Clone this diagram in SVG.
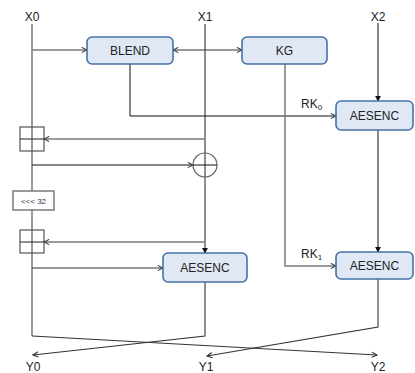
<svg xmlns="http://www.w3.org/2000/svg" width="415" height="373" viewBox="0 0 415 373">
<defs>
<style>
.box{fill:#dfe8f4;stroke:#4472a8;stroke-width:1.6}
.sq{fill:none;stroke:#555;stroke-width:1.2}
.g{fill:none;stroke:#7a7a7a;stroke-width:1.5}
.d{fill:none;stroke:#333;stroke-width:1.1}
.k{fill:none;stroke:#111;stroke-width:1}
.t{font-family:"Liberation Sans",Arial,sans-serif;font-size:12px;fill:#222;text-anchor:middle}
.l{font-family:"Liberation Sans",Arial,sans-serif;font-size:12px;fill:#222}
.s{font-family:"Liberation Sans",Arial,sans-serif;font-size:8px;fill:#334;text-anchor:middle}
</style>
<marker id="open" viewBox="0 0 8 8" refX="7" refY="4" markerWidth="7" markerHeight="7" markerUnits="userSpaceOnUse" orient="auto-start-reverse">
<path d="M1,1 L7,4 L1,7" fill="none" stroke="#333" stroke-width="1.2"/>
</marker>
<marker id="fill" viewBox="0 0 8 8" refX="7" refY="4" markerWidth="6" markerHeight="6" markerUnits="userSpaceOnUse" orient="auto">
<path d="M0,0 L8,4 L0,8 z" fill="#111"/>
</marker>
</defs>
<g id="connectors">
<line class="g" x1="32" y1="24" x2="32" y2="336"/>
<line class="d" x1="205" y1="24" x2="205" y2="253" marker-end="url(#fill)"/>
<line class="k" x1="378" y1="23" x2="378" y2="101" marker-end="url(#fill)"/>
<line class="g" x1="32" y1="50" x2="87" y2="50" marker-end="url(#open)"/>
<line class="d" x1="173" y1="50" x2="242" y2="50" marker-start="url(#open)" marker-end="url(#open)"/>
<polyline class="k" points="130,64 130,116 336,116" marker-end="url(#open)"/>
<polyline class="g" points="285,64 285,266 336,266" marker-end="url(#open)"/>
<line class="g" x1="205" y1="139" x2="44" y2="139" marker-end="url(#open)"/>
<line class="k" x1="32" y1="165" x2="193" y2="165" marker-end="url(#open)"/>
<line class="g" x1="205" y1="242" x2="44" y2="242" marker-end="url(#open)"/>
<line class="d" x1="32" y1="268" x2="163" y2="268" marker-end="url(#open)"/>
<line class="k" x1="378" y1="130" x2="378" y2="252" marker-end="url(#fill)"/>
<polyline class="d" points="205,282 205,336 33,355" marker-end="url(#open)"/>
<polyline class="d" points="32,336 377,355" marker-end="url(#open)"/>
<polyline class="d" points="378,279 378,327 207,356" marker-end="url(#open)"/>
</g>
<g id="X0"><text class="t" x="32" y="21">X0</text></g>
<g id="X1"><text class="t" x="205" y="21">X1</text></g>
<g id="X2"><text class="t" x="378" y="21">X2</text></g>
<g id="BLEND"><rect class="box" x="87" y="37" width="86" height="27" rx="5"/><text class="t" x="130" y="54.5">BLEND</text></g>
<g id="KG"><rect class="box" x="242" y="37" width="85" height="27" rx="5"/><text class="t" x="284.5" y="54.5">KG</text></g>
<g id="AESENC1"><rect class="box" x="336" y="101" width="77" height="29" rx="5"/><text class="t" x="374.5" y="120">AESENC</text></g>
<g id="AESENC2"><rect class="box" x="336" y="252" width="77" height="27" rx="5"/><text class="t" x="374.5" y="270">AESENC</text></g>
<g id="AESENC3"><rect class="box" x="163" y="253" width="84" height="29" rx="5"/><text class="t" x="205" y="272">AESENC</text></g>
<g id="RK0"><text class="l" x="301" y="108">RK<tspan font-size="8" dy="2">0</tspan></text></g>
<g id="RK1"><text class="l" x="301" y="258">RK<tspan font-size="8" dy="2">1</tspan></text></g>
<g id="add1"><rect class="sq" x="20" y="127" width="24" height="24"/><line class="d" x1="20" y1="139" x2="44" y2="139"/></g>
<g id="add2"><rect class="sq" x="20" y="230" width="24" height="23"/><line class="d" x1="20" y1="242" x2="44" y2="242"/></g>
<g id="xor"><circle cx="205" cy="165" r="12" fill="none" stroke="#666" stroke-width="1.2"/><line class="k" x1="193" y1="165" x2="217" y2="165"/></g>
<g id="rot"><rect x="13" y="191" width="41" height="19" fill="#fff" stroke="#666" stroke-width="1.3"/><text class="s" x="33.5" y="203.5">&lt;&lt;&lt; 32</text></g>
<g id="Y0"><text class="t" x="33" y="371">Y0</text></g>
<g id="Y1"><text class="t" x="206" y="371">Y1</text></g>
<g id="Y2"><text class="t" x="378" y="371">Y2</text></g>
</svg>
